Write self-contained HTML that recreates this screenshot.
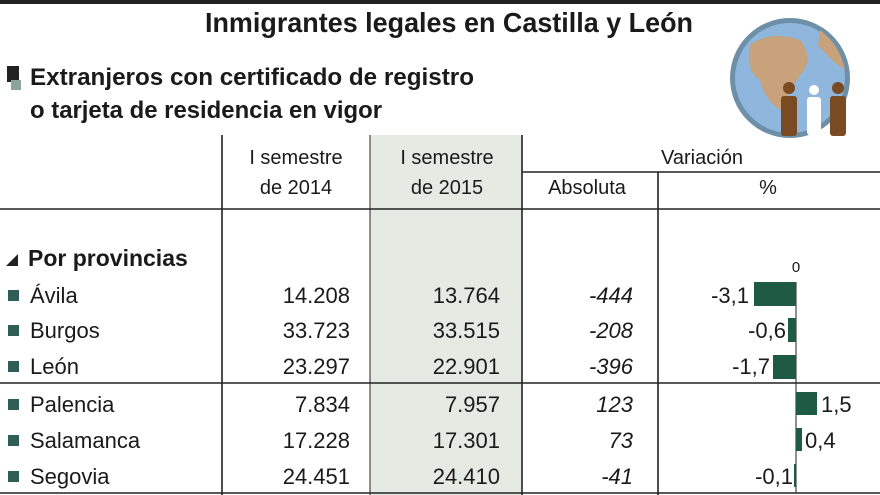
<!DOCTYPE html>
<html><head><meta charset="utf-8"><style>
html,body{margin:0;padding:0;background:#fff;width:880px;height:495px;overflow:hidden}
svg{display:block}
text{font-family:"Liberation Sans",sans-serif;fill:#1a1a1a}
</style></head><body>
<svg width="880" height="495" viewBox="0 0 880 495">
<rect x="0" y="0" width="880" height="4" fill="#222"/>
<rect x="370" y="135" width="152" height="360" fill="#e5eae3"/>
<text x="449" y="32" font-size="28" font-weight="bold" text-anchor="middle" textLength="488" lengthAdjust="spacingAndGlyphs">Inmigrantes legales en Castilla y León</text>
<rect x="7" y="66" width="12" height="16" fill="#222"/>
<rect x="11" y="80" width="10" height="10" fill="#8ca59a"/>
<text x="30" y="85" font-size="24" font-weight="bold" textLength="444" lengthAdjust="spacingAndGlyphs">Extranjeros con certificado de registro</text>
<text x="30" y="118" font-size="24" font-weight="bold" textLength="352" lengthAdjust="spacingAndGlyphs">o tarjeta de residencia en vigor</text>
<!-- globe -->
<circle cx="790" cy="78" r="60" fill="#6d8fa7"/>
<circle cx="790" cy="78" r="55" fill="#8fb6dc"/>
<path d="M750 45 Q770 30 800 40 Q815 60 800 75 Q790 90 780 110 Q765 100 760 80 Q745 70 750 45Z" fill="#c7a27a"/>
<path d="M820 30 Q840 45 845 70 Q830 60 818 45Z" fill="#c7a27a"/>
<g fill="#7a4a22"><circle cx="789" cy="88" r="6"/><rect x="781" y="96" width="16" height="40" rx="3"/>
<circle cx="838" cy="88" r="6"/><rect x="830" y="96" width="16" height="40" rx="3"/></g>
<g fill="#fff"><circle cx="814" cy="90" r="5"/><rect x="807" y="97" width="14" height="38" rx="3"/></g>
<!-- lines -->
<g stroke="#222" stroke-width="1.6">
<line x1="222" y1="135" x2="222" y2="495"/>
<line x1="370" y1="135" x2="370" y2="495" stroke-width="1"/>
<line x1="522" y1="135" x2="522" y2="495"/>
<line x1="658" y1="172" x2="658" y2="495"/>
<line x1="522" y1="172" x2="880" y2="172"/>
<line x1="0" y1="209" x2="880" y2="209"/>
<line x1="0" y1="383" x2="880" y2="383"/>
<line x1="0" y1="493" x2="880" y2="493"/>
<line x1="796" y1="282" x2="796" y2="493" stroke-width="1"/>
</g>
<g font-size="20" text-anchor="middle">
<text x="296" y="164">I semestre</text><text x="296" y="194">de 2014</text>
<text x="447" y="164">I semestre</text><text x="447" y="194">de 2015</text>
<text x="702" y="164">Variación</text>
<text x="587" y="194">Absoluta</text><text x="768" y="194">%</text>
<text x="796" y="272" font-size="15">0</text>
</g>
<path d="M6 266 L18 254 L18 266Z" fill="#222"/>
<text x="28" y="266" font-size="23" font-weight="bold">Por provincias</text>
<g font-size="22">
<g fill="#2f5e58"><rect x="8" y="290" width="11" height="11"/><rect x="8" y="325" width="11" height="11"/><rect x="8" y="361" width="11" height="11"/><rect x="8" y="399" width="11" height="11"/><rect x="8" y="435" width="11" height="11"/><rect x="8" y="471" width="11" height="11"/></g>
<text x="30" y="303">Ávila</text><text x="30" y="338">Burgos</text><text x="30" y="374">León</text><text x="30" y="412">Palencia</text><text x="30" y="448">Salamanca</text><text x="30" y="484">Segovia</text>
<g text-anchor="end">
<text x="350" y="303">14.208</text><text x="350" y="338">33.723</text><text x="350" y="374">23.297</text><text x="350" y="412">7.834</text><text x="350" y="448">17.228</text><text x="350" y="484">24.451</text>
<text x="500" y="303">13.764</text><text x="500" y="338">33.515</text><text x="500" y="374">22.901</text><text x="500" y="412">7.957</text><text x="500" y="448">17.301</text><text x="500" y="484">24.410</text>
<g font-style="italic"><text x="633" y="303">-444</text><text x="633" y="338">-208</text><text x="633" y="374">-396</text><text x="633" y="412">123</text><text x="633" y="448">73</text><text x="633" y="484">-41</text></g>
<text x="749" y="303">-3,1</text><text x="786" y="338">-0,6</text><text x="770" y="374">-1,7</text><text x="793" y="484">-0,1</text>
</g>
<text x="821" y="412">1,5</text><text x="805" y="448">0,4</text>
</g>
<g fill="#1f5a45">
<rect x="754" y="282" width="42" height="24"/>
<rect x="788" y="318" width="8" height="24"/>
<rect x="773" y="355" width="23" height="24"/>
<rect x="796" y="392" width="21" height="23"/>
<rect x="796" y="428" width="6" height="23"/>
<rect x="794" y="464" width="2" height="23"/>
</g>
</svg>
</body></html>
